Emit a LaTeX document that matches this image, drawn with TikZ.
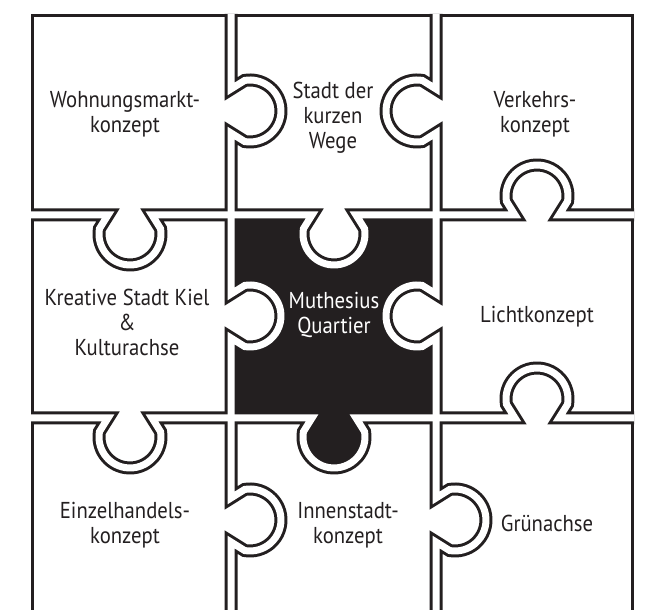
\documentclass[tikz,border=0pt]{standalone}
\usepackage{fontspec}
\setmainfont[FakeStretch=0.9]{PT Sans}
\definecolor{ink}{RGB}{35,31,32}
% tab macros: n=22 neck half width, circle centre 19 off the cut, radius 31
\newcommand\pzDE{-- ++(13.62,8.53) arc[start angle=100,end angle=-100,radius=31] -- ++(-13.62,8.53)}
\newcommand\pzDW{-- ++(-13.62,8.53) arc[start angle=80,end angle=280,radius=31] -- ++(13.62,8.53)}
\newcommand\pzUE{-- ++(13.62,-8.53) arc[start angle=-100,end angle=100,radius=31] -- ++(-13.62,-8.53)}
\newcommand\pzRN{-- ++(-8.53,13.62) arc[start angle=190,end angle=-10,radius=31] -- ++(-8.53,-13.62)}
\newcommand\pzRS{-- ++(-8.53,-13.62) arc[start angle=170,end angle=370,radius=31] -- ++(-8.53,13.62)}
\newcommand\pzLS{-- ++(8.53,-13.62) arc[start angle=10,end angle=-190,radius=31] -- ++(8.53,13.62)}
\begin{document}
\begin{tikzpicture}[x=1pt,y=1pt,
  cutblack/.style={draw=ink,line width=13pt,line join=miter,line cap=butt},
  cutwhite/.style={draw=white,line width=7pt,line join=miter,line cap=butt},
  frameline/.style={draw=ink,line width=3pt,line join=miter},
  piecefill/.style={fill=ink},
  lbl/.style={text=ink,align=center,font=\fontsize{23}{25}\selectfont,inner sep=0pt},
  lblw/.style={lbl,text=white}]
\clip (0,0) rectangle (646,610);
\fill[white] (0,0) rectangle (646,610);
% black centre piece
\path[piecefill] (231,395) -- (312,395) \pzRS -- (436,395) -- (436,316) \pzDW -- (436,192) -- (356,192) \pzLS -- (231,192) -- (231,272) \pzUE -- cycle;
% cut lines, black pass
\draw[cutblack] (231,596) -- (231,521) \pzDE -- (231,316) \pzDE -- (231,112) \pzDE -- (231,-20);
\draw[cutblack] (436,596) -- (436,521) \pzDW -- (436,316) \pzDW -- (436,112) \pzDE -- (436,-20);
\draw[cutblack] (31,395) -- (108,395) \pzRS -- (312,395) \pzRS -- (515,395) \pzRN -- (634,395);
\draw[cutblack] (31,192) -- (108,192) \pzRS -- (312,192) \pzRS -- (515,192) \pzRN -- (634,192);
% outer frame
\draw[frameline] (32.5,-20) -- (32.5,594.5) -- (632.5,594.5) -- (632.5,-20);
% cut lines, white pass
\draw[cutwhite] (231,596) -- (231,521) \pzDE -- (231,316) \pzDE -- (231,112) \pzDE -- (231,-20);
\draw[cutwhite] (436,596) -- (436,521) \pzDW -- (436,316) \pzDW -- (436,112) \pzDE -- (436,-20);
\draw[cutwhite] (31,395) -- (108,395) \pzRS -- (312,395) \pzRS -- (515,395) \pzRN -- (634,395);
\draw[cutwhite] (31,192) -- (108,192) \pzRS -- (312,192) \pzRS -- (515,192) \pzRN -- (634,192);
% labels
\node[lbl] (wohn) at (125,496) {Wohnungsmarkt-\\konzept};
\node[lbl] (stadt) at (333,492.5) {Stadt der\\kurzen\\Wege};
\node[lbl] (verk) at (535,496) {Verkehrs-\\konzept};
\node[lbl] (kreativ) at (127,288) {Kreative Stadt Kiel\\\&\\Kulturachse};
\node[lblw] (muth) at (334,295) {Muthesius\\Quartier};
\node[lbl] (licht) at (537,293.5) {Lichtkonzept};
\node[lbl] (einzel) at (125,84.5) {Einzelhandels-\\konzept};
\node[lbl] (innen) at (348,84.5) {Innenstadt-\\konzept};
\node[lbl] (gruen) at (547,87) {Grünachse};
\end{tikzpicture}
\end{document}
